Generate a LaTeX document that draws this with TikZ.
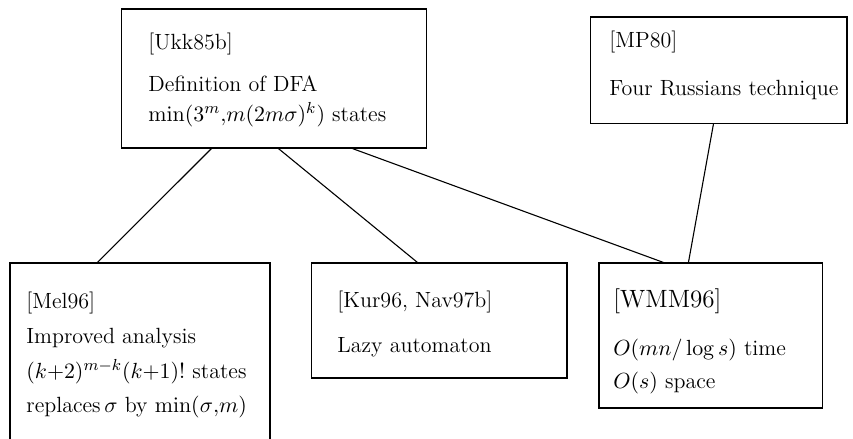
\documentclass[tikz,border=0pt]{standalone}
\usetikzlibrary{calc}
\begin{document}
\begin{tikzpicture}[x=0.5pt,y=-0.5pt,
  box/.style={draw=black,line width=0.55pt,inner sep=0pt,minimum width=#1},
  txt/.style={anchor=base west,inner sep=0pt,font=\fontsize{11}{13}\selectfont},
  big/.style={anchor=base west,inner sep=0pt,font=\fontsize{12.5}{15}\selectfont},
  link/.style={draw=black,line width=0.55pt}]
\useasboundingbox (0,0) rectangle (853,439);
% boxes
\node[box=305*0.5pt,minimum height=139*0.5pt] (ukk) at (274,78.5) {};
\node[box=256.5*0.5pt,minimum height=106.5*0.5pt] (mp) at (718.75,70.25) {};
\node[box=260*0.5pt,minimum height=177*0.5pt] (mel) at (140,351.5) {};
\node[box=255.5*0.5pt,minimum height=115*0.5pt] (kur) at (439.25,320.5) {};
\node[box=223.5*0.5pt,minimum height=145*0.5pt] (wmm) at (710.75,335.5) {};
% texts
\node[txt] (t1) at (148,49) {[Ukk85b]};
\node[txt] (t2) at (148,91) {Definition of DFA};
\node[txt] (t3) at (148,121) {$\min(3^m{,}m(2m\sigma)^k)$ states};
\node[txt] (t4) at (609,47) {[MP80]};
\node[txt] (t5) at (609,96) {Four Russians technique};
\node[txt] (t6) at (26,308) {[Mel96]};
\node[txt] (t7) at (26,343) {Improved analysis};
\node[txt] (t8) at (26,378) {$(k{+}2)^{m-k}(k{+}1)!$ states};
\node[txt] (t9) at (26,412) {replaces\,$\sigma$ by $\min(\sigma{,}m)$};
\node[txt] (t10) at (337,307) {[Kur96, Nav97b]};
\node[txt] (t11) at (337,352) {Lazy automaton};
\node[big] (t12) at (613,307) {[WMM96]};
\node[txt] (t13) at (613,355) {$O(mn/\log s)$ time};
\node[txt] (t14) at (613,388) {$O(s)$ space};
% connectors
\draw[link] ($(ukk.south west)+(90.5,0)$) -- ($(mel.north west)+(88,0)$);
\draw[link] ($(ukk.south west)+(157.5,0)$) -- ($(kur.north west)+(106.5,0)$);
\draw[link] ($(ukk.south west)+(231.5,0)$) -- ($(wmm.north west)+(65,0)$);
\draw[link] ($(mp.south west)+(123.5,0)$) -- ($(wmm.north west)+(90,0)$);
\end{tikzpicture}
\end{document}
